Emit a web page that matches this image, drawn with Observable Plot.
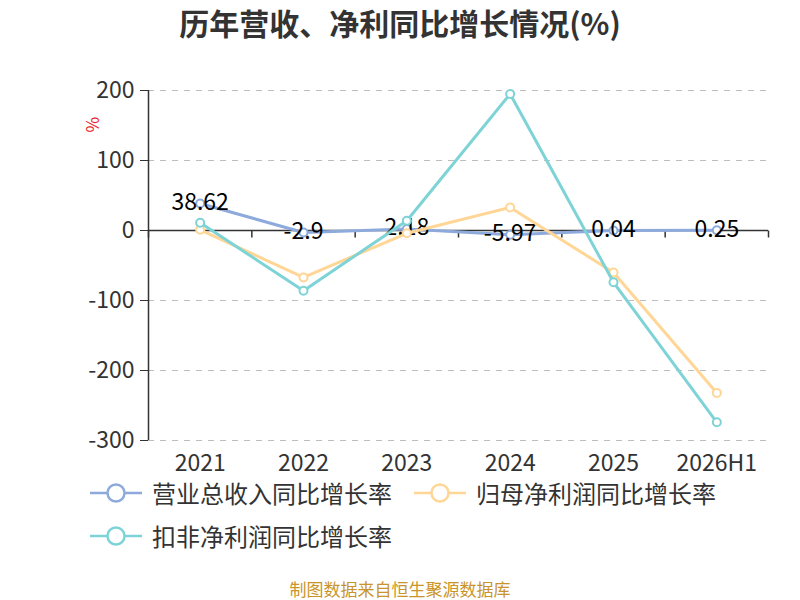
<!DOCTYPE html>
<html>
<head>
<meta charset="utf-8">
<script src="https://cdn.jsdelivr.net/npm/d3@7"></script>
<script src="https://cdn.jsdelivr.net/npm/@observablehq/plot@0.6"></script>
<style>
  body { margin: 0; background: #fff; font-family: "Noto Sans CJK SC", "Noto Sans", sans-serif; }
  #wrap { position: relative; width: 800px; height: 600px; overflow: hidden; }
  #title { position: absolute; top: 0px; left: 0; width: 800px; text-align: center; font-size: 30px; line-height: 44px; font-weight: bold; color: #333; }
  #chart { position: absolute; top: 0; left: 0; }
  #legend { position: absolute; top: 479px; left: 90px; width: 680px; display: flex; flex-wrap: wrap; row-gap: 15px; }
  .item { display: inline-flex; align-items: center; height: 28px; margin-right: 22px; font-size: 24px; line-height: 28px; color: #333; }
  .item svg { margin-right: 10px; }
  #caption { position: absolute; top: 578px; left: 0; width: 800px; text-align: center; font-size: 17px; line-height: 22px; color: #c9952a; }
</style>
</head>
<body>
<div id="wrap">
  <div id="title">历年营收、净利同比增长情况(%)</div>
  <div id="chart"></div>
  <div id="legend"></div>
  <div id="caption">制图数据来自恒生聚源数据库</div>
</div>
<script>
const categories = ["2021", "2022", "2023", "2024", "2025", "2026H1"];
const seriesNames = ["营业总收入同比增长率", "归母净利润同比增长率", "扣非净利润同比增长率"];
const seriesColors = ["#8eaadc", "#ffd696", "#7ed3d6"];
const revenueGrowth = [38.62, -2.9, 2.18, -5.97, 0.04, 0.25];
const netProfitGrowth = [1, -67, -4, 33, -60, -232];
const deductedProfitGrowth = [11, -86, 14, 195, -74, -274];
const yTicks = [-300, -200, -100, 0, 100, 200];

const toRows = (vals, s) => vals.map((v, i) => ({i, v, s}));
const rev = toRows(revenueGrowth, 0);
const net = toRows(netProfitGrowth, 1);
const ded = toRows(deductedProfitGrowth, 2);
const boundaries = d3.range(0, categories.length + 1).map(k => k - 0.5);

const tickSymbol = { draw(ctx) { ctx.moveTo(0, 0); ctx.lineTo(0, 7); } };

const font = "'Noto Sans CJK SC', 'Noto Sans', sans-serif";

const chart = Plot.plot({
  width: 800,
  height: 475,
  marginLeft: 148,
  marginRight: 32,
  marginTop: 90,
  marginBottom: 35,
  style: { fontFamily: font, background: "transparent", overflow: "visible" },
  x: { type: "linear", domain: [-0.5, categories.length - 0.5] },
  y: { domain: [-300, 200] },
  marks: [
    Plot.gridY(yTicks.filter(t => t !== 0), { stroke: "#bdbdbd", strokeOpacity: 1, strokeDasharray: "6,6" }),
    Plot.axisY({ ticks: yTicks, tickFormat: d => String(d), tickSize: 8, tickPadding: 6, fontSize: 23, color: "#333", stroke: "#333", label: null }),
    Plot.axisX({ ticks: d3.range(categories.length), tickFormat: i => categories[i], tickSize: 0, tickPadding: 14, fontSize: 23, color: "#333", label: null }),
    Plot.ruleX([-0.5], { y1: -300, y2: 200, stroke: "#333", strokeWidth: 1.5 }),
    Plot.ruleY([0], { stroke: "#333", strokeWidth: 1.5 }),
    Plot.dot(boundaries, { x: d => d, y: 0, symbol: tickSymbol, stroke: "#333", strokeWidth: 1.5, fill: "none" }),
    Plot.text(["%"], { frameAnchor: "top-left", dx: -62, dy: 42, rotate: -90, fill: "#e8232a", fontSize: 17 }),
    Plot.lineY(rev, { x: "i", y: "v", stroke: seriesColors[0], strokeWidth: 3 }),
    Plot.dot(rev, { x: "i", y: "v", r: 4, stroke: seriesColors[0], strokeWidth: 2, fill: "white" }),
    Plot.text(rev, { x: "i", y: "v", text: d => String(d.v), fontSize: 23, fill: "#000", textAnchor: "middle", lineAnchor: "middle", dy: -1 }),
    Plot.lineY(net, { x: "i", y: "v", stroke: seriesColors[1], strokeWidth: 3 }),
    Plot.dot(net, { x: "i", y: "v", r: 4, stroke: seriesColors[1], strokeWidth: 2, fill: "white" }),
    Plot.lineY(ded, { x: "i", y: "v", stroke: seriesColors[2], strokeWidth: 3 }),
    Plot.dot(ded, { x: "i", y: "v", r: 4, stroke: seriesColors[2], strokeWidth: 2, fill: "white" })
  ]
});
document.getElementById("chart").appendChild(chart);

const legend = document.getElementById("legend");
seriesNames.forEach((name, k) => {
  const item = document.createElement("div");
  item.className = "item";
  item.innerHTML = `<svg width="52" height="22"><line x1="0" y1="11" x2="52" y2="11" stroke="${seriesColors[k]}" stroke-width="2.5"/><circle cx="26" cy="11" r="8.5" fill="white" stroke="${seriesColors[k]}" stroke-width="2.5"/></svg><span>${name}</span>`;
  legend.appendChild(item);
});
</script>
</body>
</html>
